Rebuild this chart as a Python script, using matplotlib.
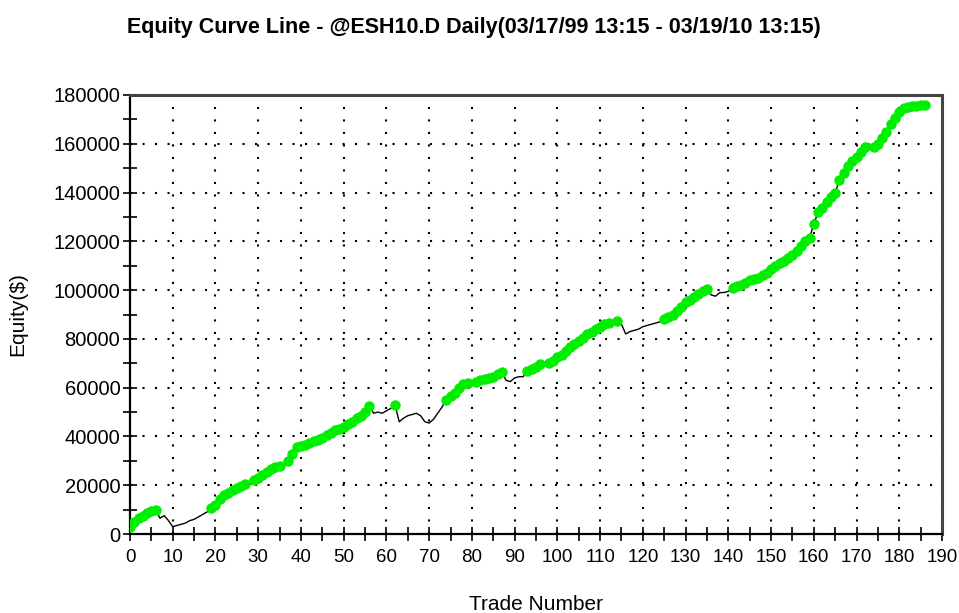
import matplotlib
matplotlib.use("Agg")
import matplotlib.pyplot as plt
from matplotlib.ticker import MultipleLocator
import numpy as np

plt.rcParams['font.family'] = ['Liberation Sans', 'DejaVu Sans']

title = "Equity Curve Line - @ESH10.D Daily(03/17/99 13:15 - 03/19/10 13:15)"
x_label = "Trade Number"
y_label = "Equity($)"

equity = [
    3000, 5000, 6500, 7500, 8500, 9500, 10000, 6500, 7500, 5500,
    3000, 3500, 4000, 4500, 5500, 6000, 7000, 8000, 9000, 10500,
    12000, 14500, 16000, 17000, 18000, 19000, 19500, 20500, 20000, 22000,
    23000, 24000, 25500, 26500, 27500, 28000, 27800, 30000, 33000, 35500,
    36000, 36500, 37500, 38000, 38500, 39500, 40500, 41500, 42500, 43000,
    44000, 45000, 46000, 47500, 48500, 50000, 52500, 49500, 50000, 49500,
    50500, 51500, 53000, 46000, 47500, 48500, 49000, 49500, 48500, 46000,
    45500, 47000, 49500, 52000, 55000, 56500, 58000, 60000, 61500, 62000,
    61500, 62500, 63000, 63500, 64000, 64500, 65500, 66500, 63000, 62500,
    64000, 64500, 64500, 67000, 67500, 68500, 69500, 69000, 70000, 71000,
    72500, 73500, 75000, 76500, 78000, 79000, 80500, 82000, 83000, 84000,
    85000, 86000, 86500, 86000, 87500, 86000, 82000, 83000, 83500, 84000,
    85000, 85500, 86000, 86500, 87000, 88000, 89000, 90000, 91500, 93000,
    95000, 96000, 97000, 98500, 99500, 100500, 98000, 97500, 99000, 99000,
    99500, 101000, 101500, 102000, 103000, 104000, 104500, 105000, 106000, 107000,
    108500, 110000, 111000, 112000, 113000, 114500, 116000, 118000, 120000, 121500,
    127000, 132000, 133500, 136000, 138000, 140000, 145000, 148000, 151000, 153000,
    154500, 156500, 158500, 158000, 158500, 160000, 162500, 165000, 168000, 170500,
    173000, 174500, 175000, 175500, 175500, 176000, 176000,
]

trades = np.arange(len(equity))
eq = np.array(equity, dtype=float)
is_high = eq >= np.maximum.accumulate(eq)

fig = plt.figure(figsize=(9.59, 6.13), dpi=100)
ax = fig.add_axes([130/959, 1-534/613, (942-130)/959, (534-95)/613])

ax.plot(trades, eq, color='black', linewidth=1.0, zorder=3)
ax.plot(trades[is_high], eq[is_high], linestyle='none', marker='o',
        markersize=7.5, color='#00ee00', markeredgewidth=0, zorder=4)

ax.set_xlim(0, 190)
ax.set_ylim(0, 180000)
ax.xaxis.set_major_locator(MultipleLocator(10))
ax.xaxis.set_minor_locator(MultipleLocator(5))
ax.yaxis.set_major_locator(MultipleLocator(20000))
ax.yaxis.set_minor_locator(MultipleLocator(10000))
ax.tick_params(which='both', direction='inout', length=10, width=1.2, color='black')
ax.tick_params(axis='y', which='major', labelsize=14.5, pad=2)
ax.tick_params(axis='x', which='major', labelsize=13.5, pad=6)

ax.grid(True, which='major', color='black', linestyle=(0, (1, 5)), linewidth=1.5)

for s in ['left', 'bottom']:
    ax.spines[s].set_linewidth(1.6)
    ax.spines[s].set_color('black')
for s in ['right', 'top']:
    ax.spines[s].set_linewidth(2.2)
    ax.spines[s].set_color('#444444')

ax.set_xlabel(x_label, fontsize=15, labelpad=21)
ax.set_ylabel(y_label, fontsize=15, labelpad=19)
fig.text(0.494, 1-27/613, title, ha='center', va='center', fontsize=15.5, fontweight='bold')

fig.savefig('out.png', dpi=100)
